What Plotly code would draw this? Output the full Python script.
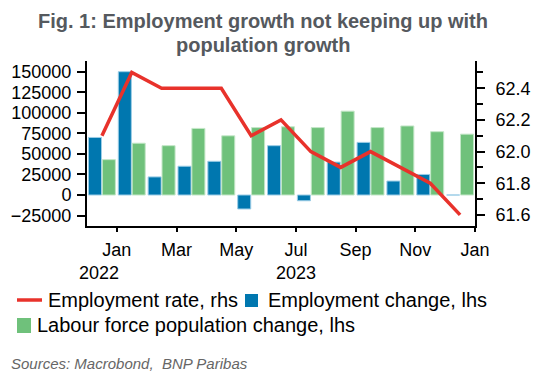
import plotly.graph_objects as go

# ---- data ----
months = ["Dec 2022", "Jan 2023", "Feb 2023", "Mar 2023", "Apr 2023", "May 2023", "Jun 2023",
          "Jul 2023", "Aug 2023", "Sep 2023", "Oct 2023", "Nov 2023", "Dec 2023"]
employment_change = [70000, 150000, 22000, 35000, 41000, -17000, 60000,
                     -7000, 40000, 64000, 17000, 25000, 0]
labour_force_change = [43000, 63000, 60000, 81000, 72000, 82000, 83000,
                       82000, 102000, 82000, 84000, 77000, 74000]
employment_rate = [62.1, 62.5, 62.4, 62.4, 62.4, 62.1, 62.2,
                   62.0, 61.9, 62.0, 61.9, 61.8, 61.6]
x_tick_labels = ["Jan", "Mar", "May", "Jul", "Sep", "Nov", "Jan"]
year_labels = ["2022", "2023"]
left_ticks = [-25000, 0, 25000, 50000, 75000, 100000, 125000, 150000]
right_ticks = [61.6, 61.8, 62.0, 62.2, 62.4]
title_lines = ["Fig. 1: Employment growth not keeping up with", "population growth"]

# month index positions (centre of each month)
xpos = [i + 0.5 for i in range(len(months))]
tick_pos = [1 + 2 * i for i in range(len(x_tick_labels))]
jan_pos = [1, 13]
year_pos = [0.5, 7]

BLUE = "#0077AF"
GREEN = "#6FC17B"
RED = "#E8322B"
FONT = "Arial, 'Liberation Sans', sans-serif"

W, H = 536, 379
L, R, T, B = 87, 61, 61, 153
pw, ph = W - L - R, H - T - B


def px(x):
    return (x - L) / pw


def py(y):
    return (H - B - y) / ph


fig = go.Figure()
fig.add_trace(go.Bar(x=xpos, y=employment_change, name="Employment change, lhs",
                     marker=dict(color=BLUE, line=dict(color="#9CCDE6", width=1)),
                     showlegend=False))
fig.add_trace(go.Bar(x=xpos, y=labour_force_change, name="Labour force population change, lhs",
                     marker=dict(color=GREEN, line=dict(color="#C4E7C8", width=1)),
                     showlegend=False))
fig.add_trace(go.Scatter(x=xpos, y=employment_rate, name="Employment rate, rhs", yaxis="y2",
                         mode="lines", line=dict(color=RED, width=3.5), showlegend=False))

shapes = [
    dict(type="line", xref="paper", yref="paper", x0=px(17), x1=px(42), y0=py(300), y1=py(300),
         line=dict(color=RED, width=3.5)),
    dict(type="rect", xref="paper", yref="paper", x0=px(245), x1=px(258), y0=py(307), y1=py(294),
         fillcolor=BLUE, line=dict(width=0)),
    dict(type="rect", xref="paper", yref="paper", x0=px(17), x1=px(31), y0=py(333), y1=py(318),
         fillcolor=GREEN, line=dict(width=0)),
]

leg_font = dict(family=FONT, size=20, color="#000000")
annotations = [
    dict(text="Employment rate, rhs", x=px(46), y=py(300), xref="paper", yref="paper",
         xanchor="left", yanchor="middle", showarrow=False, font=leg_font),
    dict(text="Employment change, lhs", x=px(266), y=py(300), xref="paper", yref="paper",
         xanchor="left", yanchor="middle", showarrow=False, font=leg_font),
    dict(text="Labour force population change, lhs", x=px(35), y=py(325), xref="paper", yref="paper",
         xanchor="left", yanchor="middle", showarrow=False, font=leg_font),
    dict(text="<i>Sources: Macrobond,  BNP Paribas</i>", x=px(9), y=py(363), xref="paper", yref="paper",
         xanchor="left", yanchor="middle", showarrow=False,
         font=dict(family=FONT, size=15, color="#666666")),
]
for line_text, ty in zip(title_lines, [21, 45]):
    annotations.append(dict(text="<b>" + line_text + "</b>", x=px(263), y=py(ty), xref="paper", yref="paper",
                            xanchor="center", yanchor="middle", showarrow=False,
                            font=dict(family=FONT, size=20, color="#55595E")))
for yl, yp in zip(year_labels, year_pos):
    annotations.append(dict(text=yl, x=yp, y=py(273), xref="x", yref="paper", xshift=-3 if yl == "2022" else 0,
                            xanchor="center", yanchor="middle", showarrow=False,
                            font=dict(family=FONT, size=18, color="#000000")))

fig.update_layout(
    width=W, height=H,
    margin=dict(l=L, r=R, t=T, b=B, autoexpand=False),
    paper_bgcolor="white", plot_bgcolor="white",
    barmode="group", bargap=0.07, bargroupgap=0.06,
    font=dict(family=FONT, size=18, color="#000000"),
    xaxis=dict(range=[0, 13], tickmode="array", tickvals=tick_pos, ticktext=x_tick_labels,
               showline=True, linecolor="black", linewidth=2, ticks="outside", ticklen=4,
               tickwidth=1.5, tickcolor="black", showgrid=False, zeroline=False, automargin=False,
               ticklabelstandoff=2, tickfont=dict(size=18)),
    xaxis2=dict(range=[0, 13], overlaying="x", matches="x", side="bottom", anchor="y",
                tickmode="array", tickvals=jan_pos, ticks="outside", ticklen=9, tickwidth=2,
                tickcolor="black", showticklabels=False, showgrid=False, zeroline=False,
                showline=False, automargin=False),
    yaxis=dict(range=[-37700, 163000], tickmode="array", tickvals=left_ticks, tickformat="d",
               showline=True, linecolor="black", linewidth=2, ticks="outside", ticklen=8,
               tickwidth=1.5, tickcolor="black", showgrid=False, zeroline=False, automargin=False,
               ticklabelstandoff=2, tickfont=dict(size=18)),
    yaxis2=dict(range=[61.53, 62.572], overlaying="y", side="right", tickmode="array",
                tickvals=right_ticks, tickformat=".1f",
                showline=True, linecolor="black", linewidth=2, ticks="outside", ticklen=8,
                tickwidth=1.5, tickcolor="black", showgrid=False, zeroline=False, automargin=False,
                minor=dict(dtick=0.1, tick0=61.5, ticks="outside", ticklen=6, tickwidth=1.5,
                           tickcolor="black"),
                ticklabelstandoff=7, tickfont=dict(size=18)),
    shapes=shapes,
    annotations=annotations,
)

fig.write_html("out.html", config={"displayModeBar": False},
               post_script="document.body.style.margin='0px';document.body.style.padding='0px';")
